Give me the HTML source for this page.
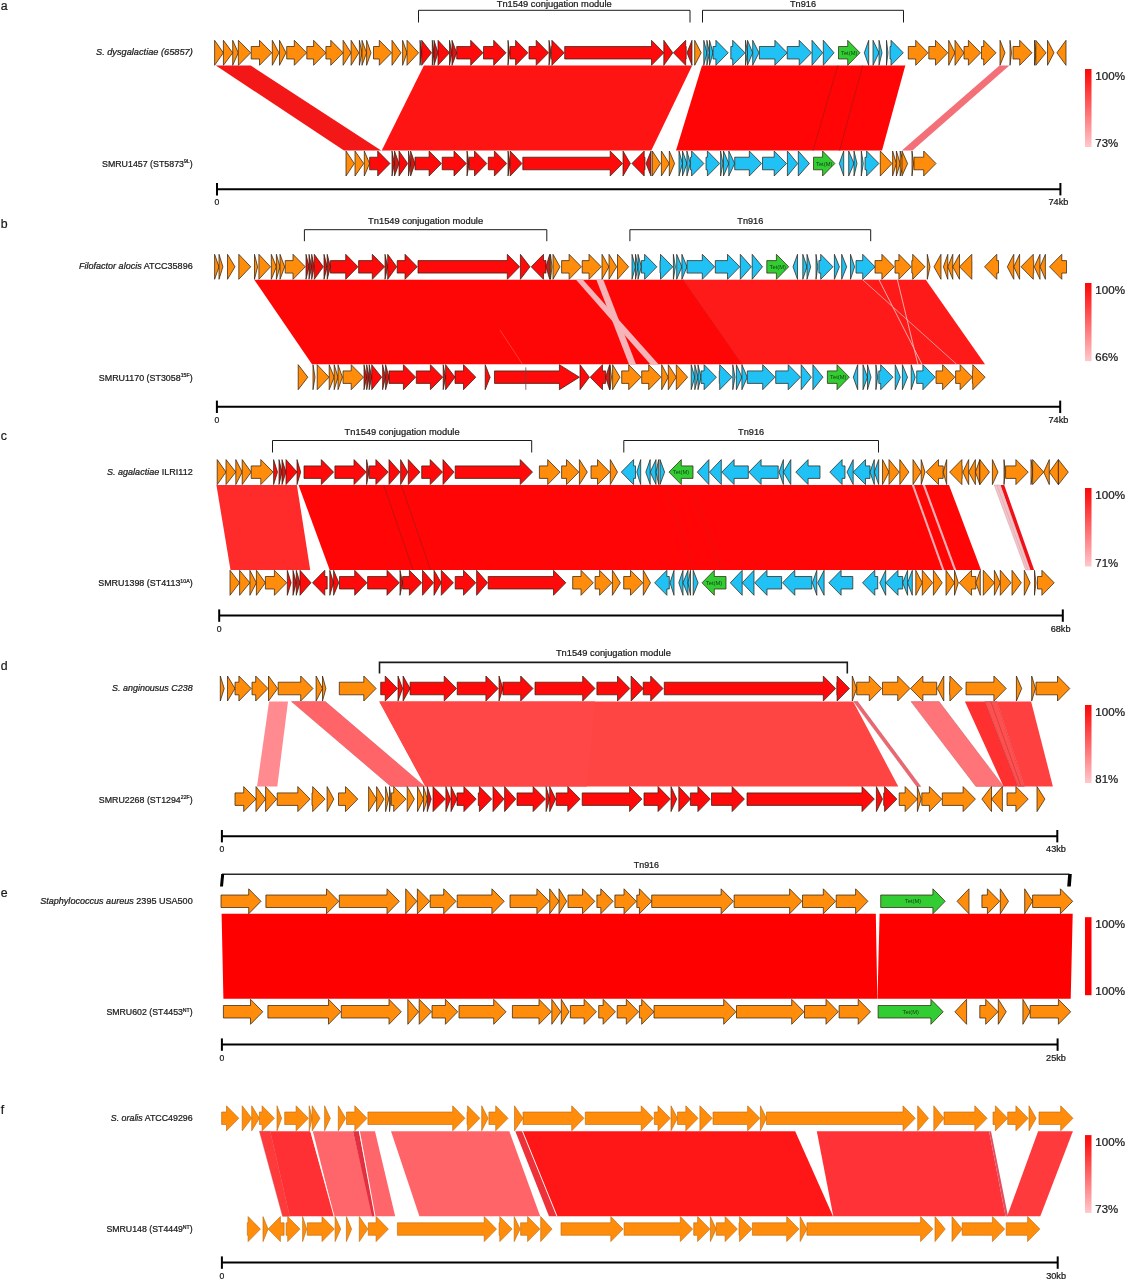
<!DOCTYPE html>
<html><head><meta charset="utf-8"><title>Figure</title>
<style>
html,body{margin:0;padding:0;background:#fff;}
body{width:1126px;height:1280px;overflow:hidden;}
svg{display:block;font-family:"Liberation Sans",sans-serif;}
text{stroke:#1a1a1a;stroke-width:0.22px;}
svg{will-change:transform;}
</style></head><body>
<svg width="1126" height="1280" viewBox="0 0 1126 1280">
<defs>
<linearGradient id="lg" x1="0" y1="0" x2="0" y2="1"><stop offset="0" stop-color="#f80a0a"/><stop offset="0.12" stop-color="#ff1a1a"/><stop offset="1" stop-color="#ffc8cc"/></linearGradient>
<linearGradient id="lgs" x1="0" y1="0" x2="0" y2="1"><stop offset="0" stop-color="#ff0000"/><stop offset="1" stop-color="#ff0000"/></linearGradient>
</defs>
<rect width="1126" height="1280" fill="#fff"/>
<text x="0.8" y="9.6" font-size="12.3" text-anchor="start" fill="#1a1a1a">a</text>
<text x="0.8" y="227.9" font-size="12.3" text-anchor="start" fill="#1a1a1a">b</text>
<text x="0.8" y="440" font-size="12.3" text-anchor="start" fill="#1a1a1a">c</text>
<text x="0.8" y="670.3" font-size="12.3" text-anchor="start" fill="#1a1a1a">d</text>
<text x="0.8" y="897" font-size="12.3" text-anchor="start" fill="#1a1a1a">e</text>
<text x="0.8" y="1114.2" font-size="12.3" text-anchor="start" fill="#1a1a1a">f</text>
<polygon points="215.8,65.5 250.7,65.5 381.2,150.6 344,150.6" fill="#f31717"/>
<polygon points="423.9,65.5 692.2,65.5 651.3,150.6 381.7,150.6" fill="#ff1414"/>
<polygon points="702,65.5 905.3,65.5 882,150.6 676,150.6" fill="#ff0505"/>
<line x1="837.8" y1="65.5" x2="813" y2="150.6" stroke="#b01414" stroke-width="0.7"/>
<line x1="862.7" y1="65.5" x2="839.6" y2="150.6" stroke="#b01414" stroke-width="0.7"/>
<polygon points="999.5,65.5 1009.4,65.5 912.4,150.6 901.8,150.6" fill="#f47078"/>
<g stroke="#2a1a08" stroke-width="0.7" stroke-linejoin="miter">
<polygon points="214.6,40.3 223.4,52.8 214.6,65.3" fill="#ff8c0a"/>
<polygon points="223.4,40.3 232.7,52.8 223.4,65.3" fill="#ff8c0a"/>
<polygon points="232.7,40.3 238.3,52.8 232.7,65.3" fill="#ff8c0a"/>
<polygon points="238.3,46.5 238.4,46.5 238.4,40.3 250.7,52.8 238.4,65.3 238.4,59 238.3,59" fill="#ff8c0a"/>
<polygon points="251.2,46.5 259.5,46.5 259.5,40.3 271.8,52.8 259.5,65.3 259.5,59 251.2,59" fill="#ff8c0a"/>
<polygon points="272.3,40.3 279,52.8 272.3,65.3" fill="#ff8c0a"/>
<polygon points="279.5,40.3 286,52.8 279.5,65.3" fill="#ff8c0a"/>
<polygon points="286.7,46.5 294.3,46.5 294.3,40.3 306.6,52.8 294.3,65.3 294.3,59 286.7,59" fill="#ff8c0a"/>
<polygon points="306.8,46.5 313.6,46.5 313.6,40.3 325.9,52.8 313.6,65.3 313.6,59 306.8,59" fill="#ff8c0a"/>
<polygon points="325.9,46.5 330.8,46.5 330.8,40.3 343.1,52.8 330.8,65.3 330.8,59 325.9,59" fill="#ff8c0a"/>
<polygon points="343.1,40.3 351.1,52.8 343.1,65.3" fill="#ff8c0a"/>
<polygon points="351.1,40.3 358.9,52.8 351.1,65.3" fill="#ff8c0a"/>
<polygon points="359.4,40.3 362,52.8 359.4,65.3" fill="#ff8c0a"/>
<polygon points="362,40.3 366.6,52.8 362,65.3" fill="#ff8c0a"/>
<polygon points="366.6,40.3 371,52.8 366.6,65.3" fill="#ff8c0a"/>
<polygon points="373.5,46.5 379.3,46.5 379.3,40.3 391.6,52.8 379.3,65.3 379.3,59 373.5,59" fill="#ff8c0a"/>
<polygon points="392,40.3 401,52.8 392,65.3" fill="#ff8c0a"/>
<polygon points="402.6,40.3 407,52.8 402.6,65.3" fill="#ff8c0a"/>
<polygon points="407,40.3 418.6,52.8 407,65.3" fill="#ff8c0a"/>
<polygon points="420,40.3 421.7,52.8 420,65.3" fill="#d81414"/>
<polygon points="421.7,40.3 431.5,52.8 421.7,65.3" fill="#ff0a0a"/>
<polygon points="432.3,40.3 434,52.8 432.3,65.3" fill="#d81414"/>
<polygon points="434,40.3 438,52.8 434,65.3" fill="#d81414"/>
<polygon points="438,40.3 449.5,52.8 438,65.3" fill="#ff0a0a"/>
<polygon points="449.5,40.3 452,52.8 449.5,65.3" fill="#d81414"/>
<polygon points="452,40.3 456.7,52.8 452,65.3" fill="#d81414"/>
<polygon points="456.7,46.5 470.7,46.5 470.7,40.3 483,52.8 470.7,65.3 470.7,59 456.7,59" fill="#ff0a0a"/>
<polygon points="483.5,46.5 493.7,46.5 493.7,40.3 506,52.8 493.7,65.3 493.7,59 483.5,59" fill="#ff0a0a"/>
<polygon points="508,40.3 509.5,52.8 508,65.3" fill="#d81414"/>
<polygon points="510,46.5 515.6,46.5 515.6,40.3 527.9,52.8 515.6,65.3 515.6,59 510,59" fill="#ff0a0a"/>
<polygon points="529,46.5 536.2,46.5 536.2,40.3 548.5,52.8 536.2,65.3 536.2,59 529,59" fill="#ff0a0a"/>
<polygon points="549,40.3 551,52.8 549,65.3" fill="#d81414"/>
<polygon points="551.3,46.5 551.9,46.5 551.9,40.3 564.2,52.8 551.9,65.3 551.9,59 551.3,59" fill="#ff0a0a"/>
<polygon points="564.7,46.5 651.5,46.5 651.5,40.3 663.8,52.8 651.5,65.3 651.5,59 564.7,59" fill="#ff0a0a"/>
<polygon points="663.8,40.3 672.8,52.8 663.8,65.3" fill="#ff0a0a"/>
<polygon points="686.2,46.5 685.7,46.5 685.7,40.3 673.4,52.8 685.7,65.3 685.7,59 686.2,59" fill="#ff0a0a"/>
<polygon points="692,40.3 687,52.8 692,65.3" fill="#d81414"/>
<polygon points="694.7,40.3 701.2,52.8 694.7,65.3" fill="#ff8c0a"/>
<polygon points="703.8,40.3 706.9,52.8 703.8,65.3" fill="#20c2f6"/>
<polygon points="706.9,40.3 709.5,52.8 706.9,65.3" fill="#20c2f6"/>
<polygon points="709.5,40.3 713,52.8 709.5,65.3" fill="#20c2f6"/>
<polygon points="713,46.5 715.9,46.5 715.9,40.3 728.2,52.8 715.9,65.3 715.9,59 713,59" fill="#20c2f6"/>
<polygon points="730.8,46.5 732.7,46.5 732.7,40.3 745,52.8 732.7,65.3 732.7,59 730.8,59" fill="#20c2f6"/>
<polygon points="745.5,40.3 747.5,52.8 745.5,65.3" fill="#20c2f6"/>
<polygon points="747.5,40.3 752.7,52.8 747.5,65.3" fill="#20c2f6"/>
<polygon points="752.7,40.3 759,52.8 752.7,65.3" fill="#20c2f6"/>
<polygon points="759.4,46.5 774.9,46.5 774.9,40.3 787.2,52.8 774.9,65.3 774.9,59 759.4,59" fill="#20c2f6"/>
<polygon points="787.2,46.5 799.2,46.5 799.2,40.3 811.5,52.8 799.2,65.3 799.2,59 787.2,59" fill="#20c2f6"/>
<polygon points="812,40.3 822.7,52.8 812,65.3" fill="#20c2f6"/>
<polygon points="823.3,40.3 834,52.8 823.3,65.3" fill="#20c2f6"/>
<polygon points="838.5,46.5 847.7,46.5 847.7,40.3 860,52.8 847.7,65.3 847.7,59 838.5,59" fill="#32cd32"/>
<polygon points="868.7,40.3 864.3,52.8 868.7,65.3" fill="#20c2f6"/>
<polygon points="873,40.3 879,52.8 873,65.3" fill="#20c2f6"/>
<polygon points="879,40.3 882,52.8 879,65.3" fill="#20c2f6"/>
<polygon points="886.5,40.3 888,52.8 886.5,65.3" fill="#20c2f6"/>
<polygon points="890,46.5 891,46.5 891,40.3 903.3,52.8 891,65.3 891,59 890,59" fill="#20c2f6"/>
<polygon points="908.3,46.5 915.7,46.5 915.7,40.3 928,52.8 915.7,65.3 915.7,59 908.3,59" fill="#ff8c0a"/>
<polygon points="928.8,46.5 935.5,46.5 935.5,40.3 947.8,52.8 935.5,65.3 935.5,59 928.8,59" fill="#ff8c0a"/>
<polygon points="948.7,40.3 955,52.8 948.7,65.3" fill="#ff8c0a"/>
<polygon points="955,40.3 964,52.8 955,65.3" fill="#ff8c0a"/>
<polygon points="964,46.5 968.4,46.5 968.4,40.3 980.7,52.8 968.4,65.3 968.4,59 964,59" fill="#ff8c0a"/>
<polygon points="981.5,46.5 983.7,46.5 983.7,40.3 996,52.8 983.7,65.3 983.7,59 981.5,59" fill="#ff8c0a"/>
<polygon points="1000,40.3 1005,52.8 1000,65.3" fill="#ff8c0a"/>
<polygon points="1010,40.3 1011.5,52.8 1010,65.3" fill="#ff8c0a"/>
<polygon points="1013,46.5 1019.7,46.5 1019.7,40.3 1032,52.8 1019.7,65.3 1019.7,59 1013,59" fill="#ff8c0a"/>
<polygon points="1034.5,40.3 1036,52.8 1034.5,65.3" fill="#ff8c0a"/>
<polygon points="1035.8,40.3 1046,52.8 1035.8,65.3" fill="#ff8c0a"/>
<polygon points="1047.5,40.3 1054,52.8 1047.5,65.3" fill="#ff8c0a"/>
<polygon points="1066,40.3 1056.9,52.8 1066,65.3" fill="#ff8c0a"/>
</g>
<text x="849.2" y="54.8" font-size="5.4" text-anchor="middle" fill="#154015" style="stroke:none" textLength="16.4" lengthAdjust="spacingAndGlyphs">Tet(M)</text>
<g stroke="#2a1a08" stroke-width="0.7" stroke-linejoin="miter">
<polygon points="346,151 354.3,163.5 346,176" fill="#ff8c0a"/>
<polygon points="355,151 363.7,163.5 355,176" fill="#ff8c0a"/>
<polygon points="364.3,151 369.6,163.5 364.3,176" fill="#ff8c0a"/>
<polygon points="369.6,157.2 377.7,157.2 377.7,151 390,163.5 377.7,176 377.7,169.8 369.6,169.8" fill="#ff0a0a"/>
<polygon points="392,151 394.5,163.5 392,176" fill="#d81414"/>
<polygon points="394.5,151 399,163.5 394.5,176" fill="#d81414"/>
<polygon points="399,151 407.7,163.5 399,176" fill="#ff0a0a"/>
<polygon points="408.5,151 410.6,163.5 408.5,176" fill="#d81414"/>
<polygon points="410.6,151 415,163.5 410.6,176" fill="#d81414"/>
<polygon points="415,157.2 429.1,157.2 429.1,151 441.4,163.5 429.1,176 429.1,169.8 415,169.8" fill="#ff0a0a"/>
<polygon points="442.2,157.2 454,157.2 454,151 466.3,163.5 454,176 454,169.8 442.2,169.8" fill="#ff0a0a"/>
<polygon points="467,151 469.2,163.5 467,176" fill="#d81414"/>
<polygon points="469.2,157.2 474.5,157.2 474.5,151 486.8,163.5 474.5,176 474.5,169.8 469.2,169.8" fill="#ff0a0a"/>
<polygon points="488.3,157.2 494.4,157.2 494.4,151 506.7,163.5 494.4,176 494.4,169.8 488.3,169.8" fill="#ff0a0a"/>
<polygon points="508,151 510.2,163.5 508,176" fill="#d81414"/>
<polygon points="510.2,151 522,163.5 510.2,176" fill="#ff0a0a"/>
<polygon points="522.8,157.2 610.2,157.2 610.2,151 622.5,163.5 610.2,176 610.2,169.8 522.8,169.8" fill="#ff0a0a"/>
<polygon points="623,151 630.4,163.5 623,176" fill="#ff0a0a"/>
<polygon points="645,157.2 644.2,157.2 644.2,151 631.9,163.5 644.2,176 644.2,169.8 645,169.8" fill="#ff0a0a"/>
<polygon points="651,151 646,163.5 651,176" fill="#d81414"/>
<polygon points="652.3,151 660.5,163.5 652.3,176" fill="#ff8c0a"/>
<polygon points="661.4,151 669.3,163.5 661.4,176" fill="#ff8c0a"/>
<polygon points="669.3,151 674.6,163.5 669.3,176" fill="#ff8c0a"/>
<polygon points="679,151 682.5,163.5 679,176" fill="#20c2f6"/>
<polygon points="682.5,151 686.9,163.5 682.5,176" fill="#20c2f6"/>
<polygon points="686.9,151 690.4,163.5 686.9,176" fill="#20c2f6"/>
<polygon points="690.4,157.2 691.6,157.2 691.6,151 703.9,163.5 691.6,176 691.6,169.8 690.4,169.8" fill="#20c2f6"/>
<polygon points="706,157.2 707.4,157.2 707.4,151 719.7,163.5 707.4,176 707.4,169.8 706,169.8" fill="#20c2f6"/>
<polygon points="720.6,151 723,163.5 720.6,176" fill="#20c2f6"/>
<polygon points="723.5,151 728.8,163.5 723.5,176" fill="#20c2f6"/>
<polygon points="728.8,151 734.7,163.5 728.8,176" fill="#20c2f6"/>
<polygon points="734.7,157.2 749.3,157.2 749.3,151 761.6,163.5 749.3,176 749.3,169.8 734.7,169.8" fill="#20c2f6"/>
<polygon points="762.5,157.2 774.2,157.2 774.2,151 786.5,163.5 774.2,176 774.2,169.8 762.5,169.8" fill="#20c2f6"/>
<polygon points="787.4,151 797.7,163.5 787.4,176" fill="#20c2f6"/>
<polygon points="798.3,151 809.4,163.5 798.3,176" fill="#20c2f6"/>
<polygon points="813.5,157.2 822.6,157.2 822.6,151 834.9,163.5 822.6,176 822.6,169.8 813.5,169.8" fill="#32cd32"/>
<polygon points="843.7,151 839.3,163.5 843.7,176" fill="#20c2f6"/>
<polygon points="848.7,151 854,163.5 848.7,176" fill="#20c2f6"/>
<polygon points="854,151 857,163.5 854,176" fill="#20c2f6"/>
<polygon points="861.3,151 863.3,163.5 861.3,176" fill="#20c2f6"/>
<polygon points="865,157.2 866.6,157.2 866.6,151 878.9,163.5 866.6,176 866.6,169.8 865,169.8" fill="#20c2f6"/>
<polygon points="880.3,151 892,163.5 880.3,176" fill="#ff8c0a"/>
<polygon points="892.6,151 896.4,163.5 892.6,176" fill="#ff8c0a"/>
<polygon points="896.4,151 900.2,163.5 896.4,176" fill="#ff8c0a"/>
<polygon points="900.2,151 903.8,163.5 900.2,176" fill="#ff8c0a"/>
<polygon points="902,151 907.6,163.5 902,176" fill="#ff8c0a"/>
<polygon points="912,151 913.5,163.5 912,176" fill="#ff8c0a"/>
<polygon points="914,157.2 923.7,157.2 923.7,151 936,163.5 923.7,176 923.7,169.8 914,169.8" fill="#ff8c0a"/>
</g>
<text x="824.2" y="165.5" font-size="5.4" text-anchor="middle" fill="#154015" style="stroke:none" textLength="16.4" lengthAdjust="spacingAndGlyphs">Tet(M)</text>
<polyline points="418.5,22.5 418.5,10.3 690,10.3 690,22.5" fill="none" stroke="#1a1a1a" stroke-width="1"/>
<text x="554.2" y="6.8" font-size="8.5" text-anchor="middle" fill="#1a1a1a" textLength="115" lengthAdjust="spacingAndGlyphs">Tn1549 conjugation module</text>
<polyline points="702.5,22.5 702.5,10.3 903.5,10.3 903.5,22.5" fill="none" stroke="#1a1a1a" stroke-width="1"/>
<text x="803" y="6.8" font-size="8.5" text-anchor="middle" fill="#1a1a1a" textLength="26" lengthAdjust="spacingAndGlyphs">Tn916</text>
<text x="96" y="55" font-size="8.5" fill="#1a1a1a" textLength="96.7" lengthAdjust="spacingAndGlyphs"><tspan font-style="italic">S. dysgalactiae (65857)</tspan></text>
<text x="102" y="166.5" font-size="8.5" fill="#1a1a1a" textLength="90.7" lengthAdjust="spacingAndGlyphs">SMRU1457 (ST5873<tspan font-size="5" dy="-3.2">9L</tspan><tspan dy="3.2">)</tspan></text>
<line x1="217" y1="189.2" x2="1060.4" y2="189.2" stroke="#000" stroke-width="2"/>
<line x1="217" y1="183" x2="217" y2="195.4" stroke="#000" stroke-width="2"/>
<line x1="1060.4" y1="183" x2="1060.4" y2="195.4" stroke="#000" stroke-width="2"/>
<text x="217" y="205.2" font-size="8.3" text-anchor="middle" fill="#1a1a1a" textLength="4.8" lengthAdjust="spacingAndGlyphs">0</text>
<text x="1058.4" y="205.2" font-size="8.3" text-anchor="middle" fill="#1a1a1a" textLength="19.9" lengthAdjust="spacingAndGlyphs">74kb</text>
<rect x="1085" y="69" width="6.5" height="78" fill="url(#lg)"/>
<text x="1095.3" y="79.5" font-size="10.5" text-anchor="start" fill="#1a1a1a" textLength="29.7" lengthAdjust="spacingAndGlyphs">100%</text>
<text x="1095.3" y="147.1" font-size="10.5" text-anchor="start" fill="#1a1a1a" textLength="22.8" lengthAdjust="spacingAndGlyphs">73%</text>
<polygon points="254.3,279.8 684,279.8 743,364.3 312,364.3" fill="#ff0606"/>
<polygon points="683,279.8 925.8,279.8 985,364.3 742,364.3" fill="#ff1a1a"/>
<line x1="683" y1="279.8" x2="742" y2="364.3" stroke="#c82020" stroke-width="0.5"/>
<polygon points="576,279.8 583,279.8 658.5,364.3 650.3,364.3" fill="#f6b4b8"/>
<polygon points="596.4,279.8 603.3,279.8 636,364.3 629,364.3" fill="#f6b4b8"/>
<line x1="862.7" y1="279.8" x2="956.7" y2="364.3" stroke="#e8a0a0" stroke-width="0.9"/>
<line x1="879" y1="279.8" x2="922" y2="364.3" stroke="#f0b8b8" stroke-width="0.9"/>
<line x1="897.4" y1="279.8" x2="917.9" y2="364.3" stroke="#f0b8b8" stroke-width="0.9"/>
<line x1="500" y1="330" x2="522.5" y2="364.3" stroke="#ff7060" stroke-width="0.5"/>
<g stroke="#2a1a08" stroke-width="0.7" stroke-linejoin="miter">
<polygon points="214.6,254.3 219,266.8 214.6,279.3" fill="#ff8c0a"/>
<polygon points="219,254.3 222.9,266.8 219,279.3" fill="#ff8c0a"/>
<polygon points="227.5,254.3 235,266.8 227.5,279.3" fill="#ff8c0a"/>
<polygon points="238.8,254.3 250.7,266.8 238.8,279.3" fill="#ff8c0a"/>
<polygon points="254.5,254.3 257.6,266.8 254.5,279.3" fill="#ff8c0a"/>
<polygon points="258.9,254.3 270.5,266.8 258.9,279.3" fill="#ff8c0a"/>
<polygon points="271.3,254.3 276.4,266.8 271.3,279.3" fill="#ff8c0a"/>
<polygon points="276.4,254.3 280,266.8 276.4,279.3" fill="#ff8c0a"/>
<polygon points="280,254.3 284.7,266.8 280,279.3" fill="#ff8c0a"/>
<polygon points="285.2,260.6 293,260.6 293,254.3 305.3,266.8 293,279.3 293,273.1 285.2,273.1" fill="#ff8c0a"/>
<polygon points="306,254.3 309,266.8 306,279.3" fill="#d81414"/>
<polygon points="309,254.3 311.7,266.8 309,279.3" fill="#d81414"/>
<polygon points="311.7,254.3 314.3,266.8 311.7,279.3" fill="#d81414"/>
<polygon points="314.3,254.3 323.3,266.8 314.3,279.3" fill="#ff0a0a"/>
<polygon points="324,254.3 327.2,266.8 324,279.3" fill="#d81414"/>
<polygon points="327.2,254.3 330.5,266.8 327.2,279.3" fill="#d81414"/>
<polygon points="330.5,260.6 345.7,260.6 345.7,254.3 358,266.8 345.7,279.3 345.7,273.1 330.5,273.1" fill="#ff0a0a"/>
<polygon points="358.6,260.6 372.3,260.6 372.3,254.3 384.6,266.8 372.3,279.3 372.3,273.1 358.6,273.1" fill="#ff0a0a"/>
<polygon points="385,254.3 387.7,266.8 385,279.3" fill="#d81414"/>
<polygon points="387.7,254.3 396.7,266.8 387.7,279.3" fill="#ff0a0a"/>
<polygon points="397.2,260.6 405,260.6 405,254.3 417.3,266.8 405,279.3 405,273.1 397.2,273.1" fill="#ff0a0a"/>
<polygon points="418,260.6 507.3,260.6 507.3,254.3 519.6,266.8 507.3,279.3 507.3,273.1 418,273.1" fill="#ff0a0a"/>
<polygon points="520.4,254.3 530,266.8 520.4,279.3" fill="#ff0a0a"/>
<polygon points="546,260.6 543.5,260.6 543.5,254.3 531.2,266.8 543.5,279.3 543.5,273.1 546,273.1" fill="#ff0a0a"/>
<polygon points="549.7,254.3 546,266.8 549.7,279.3" fill="#d81414"/>
<polygon points="550.5,254.3 552,266.8 550.5,279.3" fill="#ff8c0a"/>
<polygon points="553,254.3 560,266.8 553,279.3" fill="#ff8c0a"/>
<polygon points="561.6,260.6 569.1,260.6 569.1,254.3 581.4,266.8 569.1,279.3 569.1,273.1 561.6,273.1" fill="#ff8c0a"/>
<polygon points="582.2,260.6 589,260.6 589,254.3 601.3,266.8 589,279.3 589,273.1 582.2,273.1" fill="#ff8c0a"/>
<polygon points="602,254.3 609,266.8 602,279.3" fill="#ff8c0a"/>
<polygon points="609,254.3 616.7,266.8 609,279.3" fill="#ff8c0a"/>
<polygon points="617.5,254.3 628.6,266.8 617.5,279.3" fill="#ff8c0a"/>
<polygon points="632,254.3 635.5,266.8 632,279.3" fill="#20c2f6"/>
<polygon points="635.5,254.3 638,266.8 635.5,279.3" fill="#20c2f6"/>
<polygon points="638,254.3 641.4,266.8 638,279.3" fill="#20c2f6"/>
<polygon points="641.4,260.6 644.6,260.6 644.6,254.3 656.9,266.8 644.6,279.3 644.6,273.1 641.4,273.1" fill="#20c2f6"/>
<polygon points="660,260.6 660.5,260.6 660.5,254.3 672.8,266.8 660.5,279.3 660.5,273.1 660,273.1" fill="#20c2f6"/>
<polygon points="673.4,254.3 675.4,266.8 673.4,279.3" fill="#20c2f6"/>
<polygon points="676.7,254.3 681.9,266.8 676.7,279.3" fill="#20c2f6"/>
<polygon points="681.9,254.3 687,266.8 681.9,279.3" fill="#20c2f6"/>
<polygon points="687,260.6 702.3,260.6 702.3,254.3 714.6,266.8 702.3,279.3 702.3,273.1 687,273.1" fill="#20c2f6"/>
<polygon points="715.3,260.6 727.5,260.6 727.5,254.3 739.8,266.8 727.5,279.3 727.5,273.1 715.3,273.1" fill="#20c2f6"/>
<polygon points="740.3,254.3 751.4,266.8 740.3,279.3" fill="#20c2f6"/>
<polygon points="752.2,254.3 762.5,266.8 752.2,279.3" fill="#20c2f6"/>
<polygon points="766.8,260.6 776.4,260.6 776.4,254.3 788.7,266.8 776.4,279.3 776.4,273.1 766.8,273.1" fill="#32cd32"/>
<polygon points="797.5,254.3 793,266.8 797.5,279.3" fill="#20c2f6"/>
<polygon points="802.8,254.3 807,266.8 802.8,279.3" fill="#20c2f6"/>
<polygon points="807,254.3 810.7,266.8 807,279.3" fill="#20c2f6"/>
<polygon points="816,254.3 817.8,266.8 816,279.3" fill="#20c2f6"/>
<polygon points="818.9,260.6 820.7,260.6 820.7,254.3 833,266.8 820.7,279.3 820.7,273.1 818.9,273.1" fill="#20c2f6"/>
<polygon points="834.4,254.3 839.4,266.8 834.4,279.3" fill="#20c2f6"/>
<polygon points="841.7,254.3 846.7,266.8 841.7,279.3" fill="#20c2f6"/>
<polygon points="850.5,254.3 854.6,266.8 850.5,279.3" fill="#20c2f6"/>
<polygon points="856,260.6 862.7,260.6 862.7,254.3 875,266.8 862.7,279.3 862.7,273.1 856,273.1" fill="#20c2f6"/>
<polygon points="875,260.6 881.9,260.6 881.9,254.3 894.2,266.8 881.9,279.3 881.9,273.1 875,273.1" fill="#ff8c0a"/>
<polygon points="895,260.6 898.9,260.6 898.9,254.3 911.2,266.8 898.9,279.3 898.9,273.1 895,273.1" fill="#ff8c0a"/>
<polygon points="911.8,260.6 912.7,260.6 912.7,254.3 925,266.8 912.7,279.3 912.7,273.1 911.8,273.1" fill="#ff8c0a"/>
<polygon points="927.3,254.3 930,266.8 927.3,279.3" fill="#ff8c0a"/>
<polygon points="941,254.3 934,266.8 941,279.3" fill="#ff8c0a"/>
<polygon points="947.8,254.3 943.4,266.8 947.8,279.3" fill="#ff8c0a"/>
<polygon points="952.8,254.3 947.8,266.8 952.8,279.3" fill="#ff8c0a"/>
<polygon points="959.5,254.3 952.8,266.8 959.5,279.3" fill="#ff8c0a"/>
<polygon points="971.9,260.6 971.8,260.6 971.8,254.3 959.5,266.8 971.8,279.3 971.8,273.1 971.9,273.1" fill="#ff8c0a"/>
<polygon points="998.5,260.6 996.8,260.6 996.8,254.3 984.5,266.8 996.8,279.3 996.8,273.1 998.5,273.1" fill="#ff8c0a"/>
<polygon points="1013.8,254.3 1007.3,266.8 1013.8,279.3" fill="#ff8c0a"/>
<polygon points="1019.6,254.3 1013.8,266.8 1019.6,279.3" fill="#ff8c0a"/>
<polygon points="1033.7,260.6 1033.3,260.6 1033.3,254.3 1021,266.8 1033.3,279.3 1033.3,273.1 1033.7,273.1" fill="#ff8c0a"/>
<polygon points="1040,254.3 1034.3,266.8 1040,279.3" fill="#ff8c0a"/>
<polygon points="1045.4,254.3 1040,266.8 1045.4,279.3" fill="#ff8c0a"/>
<polygon points="1066.5,260.6 1061.8,260.6 1061.8,254.3 1049.5,266.8 1061.8,279.3 1061.8,273.1 1066.5,273.1" fill="#ff8c0a"/>
</g>
<text x="777.8" y="268.8" font-size="5.4" text-anchor="middle" fill="#154015" style="stroke:none" textLength="16.4" lengthAdjust="spacingAndGlyphs">Tet(M)</text>
<g stroke="#2a1a08" stroke-width="0.7" stroke-linejoin="miter">
<polygon points="298.2,364.7 307.8,377.2 298.2,389.7" fill="#ff8c0a"/>
<polygon points="313,364.7 315,377.2 313,389.7" fill="#ff8c0a"/>
<polygon points="317.2,364.7 329,377.2 317.2,389.7" fill="#ff8c0a"/>
<polygon points="329.2,364.7 334.2,377.2 329.2,389.7" fill="#ff8c0a"/>
<polygon points="334.2,364.7 338,377.2 334.2,389.7" fill="#ff8c0a"/>
<polygon points="338,364.7 342.4,377.2 338,389.7" fill="#ff8c0a"/>
<polygon points="343,370.9 351.2,370.9 351.2,364.7 363.5,377.2 351.2,389.7 351.2,383.4 343,383.4" fill="#ff8c0a"/>
<polygon points="364,364.7 366.7,377.2 364,389.7" fill="#d81414"/>
<polygon points="366.7,364.7 369.2,377.2 366.7,389.7" fill="#d81414"/>
<polygon points="369.2,364.7 371.7,377.2 369.2,389.7" fill="#d81414"/>
<polygon points="371.7,364.7 381.7,377.2 371.7,389.7" fill="#ff0a0a"/>
<polygon points="382.6,364.7 385.6,377.2 382.6,389.7" fill="#d81414"/>
<polygon points="385.6,364.7 389,377.2 385.6,389.7" fill="#d81414"/>
<polygon points="389,370.9 403.4,370.9 403.4,364.7 415.7,377.2 403.4,389.7 403.4,383.4 389,383.4" fill="#ff0a0a"/>
<polygon points="416.3,370.9 430.4,370.9 430.4,364.7 442.7,377.2 430.4,389.7 430.4,383.4 416.3,383.4" fill="#ff0a0a"/>
<polygon points="443.2,364.7 445.6,377.2 443.2,389.7" fill="#d81414"/>
<polygon points="445.6,364.7 455,377.2 445.6,389.7" fill="#ff0a0a"/>
<polygon points="455,370.9 463.5,370.9 463.5,364.7 475.8,377.2 463.5,389.7 463.5,383.4 455,383.4" fill="#ff0a0a"/>
<polygon points="485.2,364.7 490.1,377.2 485.2,389.7" fill="#ff0a0a"/>
<polygon points="494.5,370.9 559.4,370.9 559.4,364.7 579.4,377.2 559.4,389.7 559.4,383.4 494.5,383.4" fill="#ff0a0a"/>
<polygon points="580,364.7 589.4,377.2 580,389.7" fill="#ff0a0a"/>
<polygon points="605.6,370.9 602.5,370.9 602.5,364.7 590.2,377.2 602.5,389.7 602.5,383.4 605.6,383.4" fill="#ff0a0a"/>
<polygon points="609.6,364.7 605.6,377.2 609.6,389.7" fill="#d81414"/>
<polygon points="610,364.7 611.5,377.2 610,389.7" fill="#ff8c0a"/>
<polygon points="612.6,364.7 620,377.2 612.6,389.7" fill="#ff8c0a"/>
<polygon points="621.7,370.9 628.7,370.9 628.7,364.7 641,377.2 628.7,389.7 628.7,383.4 621.7,383.4" fill="#ff8c0a"/>
<polygon points="641.7,370.9 648.7,370.9 648.7,364.7 661,377.2 648.7,389.7 648.7,383.4 641.7,383.4" fill="#ff8c0a"/>
<polygon points="661.7,364.7 668.3,377.2 661.7,389.7" fill="#ff8c0a"/>
<polygon points="668.3,364.7 676.3,377.2 668.3,389.7" fill="#ff8c0a"/>
<polygon points="676.3,364.7 687.6,377.2 676.3,389.7" fill="#ff8c0a"/>
<polygon points="691.2,364.7 694.8,377.2 691.2,389.7" fill="#20c2f6"/>
<polygon points="694.8,364.7 698,377.2 694.8,389.7" fill="#20c2f6"/>
<polygon points="698,364.7 701,377.2 698,389.7" fill="#20c2f6"/>
<polygon points="701,370.9 704.1,370.9 704.1,364.7 716.4,377.2 704.1,389.7 704.1,383.4 701,383.4" fill="#20c2f6"/>
<polygon points="719.3,370.9 719.7,370.9 719.7,364.7 732,377.2 719.7,389.7 719.7,383.4 719.3,383.4" fill="#20c2f6"/>
<polygon points="732.8,364.7 735,377.2 732.8,389.7" fill="#20c2f6"/>
<polygon points="736.4,364.7 741.9,377.2 736.4,389.7" fill="#20c2f6"/>
<polygon points="741.9,364.7 747.3,377.2 741.9,389.7" fill="#20c2f6"/>
<polygon points="747.3,370.9 762.7,370.9 762.7,364.7 775,377.2 762.7,389.7 762.7,383.4 747.3,383.4" fill="#20c2f6"/>
<polygon points="775.7,370.9 788.2,370.9 788.2,364.7 800.5,377.2 788.2,389.7 788.2,383.4 775.7,383.4" fill="#20c2f6"/>
<polygon points="801.2,364.7 811.4,377.2 801.2,389.7" fill="#20c2f6"/>
<polygon points="812.9,364.7 823,377.2 812.9,389.7" fill="#20c2f6"/>
<polygon points="827.4,370.9 837,370.9 837,364.7 849.3,377.2 837,389.7 837,383.4 827.4,383.4" fill="#32cd32"/>
<polygon points="857.7,364.7 853.3,377.2 857.7,389.7" fill="#20c2f6"/>
<polygon points="863,364.7 867.5,377.2 863,389.7" fill="#20c2f6"/>
<polygon points="867.5,364.7 871,377.2 867.5,389.7" fill="#20c2f6"/>
<polygon points="875.9,364.7 877.7,377.2 875.9,389.7" fill="#20c2f6"/>
<polygon points="878.8,370.9 880.7,370.9 880.7,364.7 893,377.2 880.7,389.7 880.7,383.4 878.8,383.4" fill="#20c2f6"/>
<polygon points="895.2,364.7 900.3,377.2 895.2,389.7" fill="#20c2f6"/>
<polygon points="902.4,364.7 907.5,377.2 902.4,389.7" fill="#20c2f6"/>
<polygon points="911.2,364.7 915.2,377.2 911.2,389.7" fill="#20c2f6"/>
<polygon points="916.7,370.9 922.9,370.9 922.9,364.7 935.2,377.2 922.9,389.7 922.9,383.4 916.7,383.4" fill="#20c2f6"/>
<polygon points="936,370.9 942.6,370.9 942.6,364.7 954.9,377.2 942.6,389.7 942.6,383.4 936,383.4" fill="#ff8c0a"/>
<polygon points="955.6,370.9 960.1,370.9 960.1,364.7 972.4,377.2 960.1,389.7 960.1,383.4 955.6,383.4" fill="#ff8c0a"/>
<polygon points="972.4,370.9 972.8,370.9 972.8,364.7 985.1,377.2 972.8,389.7 972.8,383.4 972.4,383.4" fill="#ff8c0a"/>
</g>
<text x="838.3" y="379.2" font-size="5.4" text-anchor="middle" fill="#154015" style="stroke:none" textLength="16.4" lengthAdjust="spacingAndGlyphs">Tet(M)</text>
<line x1="525.8" y1="367.4" x2="525.8" y2="389.8" stroke="#7a4040" stroke-width="0.8"/>
<polyline points="304.4,241.2 304.4,229.7 546.8,229.7 546.8,241.2" fill="none" stroke="#1a1a1a" stroke-width="1"/>
<text x="425.6" y="224.4" font-size="8.5" text-anchor="middle" fill="#1a1a1a" textLength="115" lengthAdjust="spacingAndGlyphs">Tn1549 conjugation module</text>
<polyline points="629.9,241.2 629.9,229.7 870.7,229.7 870.7,241.2" fill="none" stroke="#1a1a1a" stroke-width="1"/>
<text x="750.3" y="224.4" font-size="8.5" text-anchor="middle" fill="#1a1a1a" textLength="26" lengthAdjust="spacingAndGlyphs">Tn916</text>
<text x="79" y="269" font-size="8.5" fill="#1a1a1a" textLength="113.7" lengthAdjust="spacingAndGlyphs"><tspan font-style="italic">Filofactor alocis</tspan> ATCC35896</text>
<text x="98.8" y="380.6" font-size="8.5" fill="#1a1a1a" textLength="93.9" lengthAdjust="spacingAndGlyphs">SMRU1170 (ST3058<tspan font-size="5" dy="-3.2">15F</tspan><tspan dy="3.2">)</tspan></text>
<line x1="216.9" y1="406.8" x2="1060.2" y2="406.8" stroke="#000" stroke-width="2"/>
<line x1="216.9" y1="400.6" x2="216.9" y2="413" stroke="#000" stroke-width="2"/>
<line x1="1060.2" y1="400.6" x2="1060.2" y2="413" stroke="#000" stroke-width="2"/>
<text x="216.9" y="422.8" font-size="8.3" text-anchor="middle" fill="#1a1a1a" textLength="4.8" lengthAdjust="spacingAndGlyphs">0</text>
<text x="1058.4" y="422.8" font-size="8.3" text-anchor="middle" fill="#1a1a1a" textLength="19.9" lengthAdjust="spacingAndGlyphs">74kb</text>
<rect x="1085" y="283" width="6.5" height="78.1" fill="url(#lg)"/>
<text x="1095.3" y="293.5" font-size="10.5" text-anchor="start" fill="#1a1a1a" textLength="29.7" lengthAdjust="spacingAndGlyphs">100%</text>
<text x="1095.3" y="361.2" font-size="10.5" text-anchor="start" fill="#1a1a1a" textLength="22.8" lengthAdjust="spacingAndGlyphs">66%</text>
<polygon points="216.4,485 296.9,485 310.2,569.9 230.5,569.9" fill="#ff2a2a"/>
<polygon points="298.5,485 949,485 981,569.9 329.7,569.9" fill="#ff0505"/>
<line x1="383.7" y1="485" x2="413" y2="569.9" stroke="#a81818" stroke-width="0.7"/>
<line x1="401.2" y1="485" x2="430.6" y2="569.9" stroke="#a81818" stroke-width="0.7"/>
<line x1="665" y1="485" x2="694" y2="569.9" stroke="#c02020" stroke-width="0.4"/>
<line x1="690" y1="485" x2="722" y2="569.9" stroke="#c02020" stroke-width="0.4"/>
<polygon points="911.8,485 914,485 944.4,569.9 942.2,569.9" fill="#f4b0b4"/>
<polygon points="922.7,485 925,485 956.3,569.9 954,569.9" fill="#f4b0b4"/>
<polygon points="994.2,485 999.8,485 1030.5,569.9 1025.6,569.9" fill="#f6c4c8" stroke="#c8a0a0" stroke-width="0.5"/>
<line x1="997" y1="485" x2="1028" y2="569.9" stroke="#c8a0a0" stroke-width="0.5"/>
<polygon points="1000.5,485 1004.2,485 1034.2,569.9 1030.5,569.9" fill="#f01018"/>
<g stroke="#2a1a08" stroke-width="0.7" stroke-linejoin="miter">
<polygon points="217.2,459.6 226,472.1 217.2,484.6" fill="#ff8c0a"/>
<polygon points="226,459.6 235.8,472.1 226,484.6" fill="#ff8c0a"/>
<polygon points="235.8,459.6 242.2,472.1 235.8,484.6" fill="#ff8c0a"/>
<polygon points="242.2,459.6 251.2,472.1 242.2,484.6" fill="#ff8c0a"/>
<polygon points="251.2,465.9 260.8,465.9 260.8,459.6 273.1,472.1 260.8,484.6 260.8,478.4 251.2,478.4" fill="#ff8c0a"/>
<polygon points="273.6,459.6 277.5,472.1 273.6,484.6" fill="#ff0a0a"/>
<polygon points="279,459.6 282,472.1 279,484.6" fill="#d81414"/>
<polygon points="282,459.6 286,472.1 282,484.6" fill="#d81414"/>
<polygon points="286,459.6 297,472.1 286,484.6" fill="#ff0a0a"/>
<polygon points="297,459.6 300.7,472.1 297,484.6" fill="#ff0a0a"/>
<polygon points="304,465.9 321.3,465.9 321.3,459.6 333.6,472.1 321.3,484.6 321.3,478.4 304,478.4" fill="#ff0a0a"/>
<polygon points="334.9,465.9 354,465.9 354,459.6 366.3,472.1 354,484.6 354,478.4 334.9,478.4" fill="#ff0a0a"/>
<polygon points="366.6,459.6 369,472.1 366.6,484.6" fill="#d81414"/>
<polygon points="369.2,465.9 375.9,465.9 375.9,459.6 388.2,472.1 375.9,484.6 375.9,478.4 369.2,478.4" fill="#ff0a0a"/>
<polygon points="389,459.6 400,472.1 389,484.6" fill="#ff0a0a"/>
<polygon points="400.6,459.6 407.8,472.1 400.6,484.6" fill="#ff0a0a"/>
<polygon points="408.3,459.6 419.9,472.1 408.3,484.6" fill="#ff0a0a"/>
<polygon points="421.7,465.9 430.2,465.9 430.2,459.6 442.5,472.1 430.2,484.6 430.2,478.4 421.7,478.4" fill="#ff0a0a"/>
<polygon points="443,459.6 454,472.1 443,484.6" fill="#ff0a0a"/>
<polygon points="455.2,465.9 520.2,465.9 520.2,459.6 532.5,472.1 520.2,484.6 520.2,478.4 455.2,478.4" fill="#ff0a0a"/>
<polygon points="539.4,465.9 547.7,465.9 547.7,459.6 560,472.1 547.7,484.6 547.7,478.4 539.4,478.4" fill="#ff8c0a"/>
<polygon points="561.6,465.9 566.5,465.9 566.5,459.6 578.8,472.1 566.5,484.6 566.5,478.4 561.6,478.4" fill="#ff8c0a"/>
<polygon points="579.4,459.6 587.3,472.1 579.4,484.6" fill="#ff8c0a"/>
<polygon points="591,465.9 597.5,465.9 597.5,459.6 609.8,472.1 597.5,484.6 597.5,478.4 591,478.4" fill="#ff8c0a"/>
<polygon points="610.3,459.6 617.5,472.1 610.3,484.6" fill="#ff8c0a"/>
<polygon points="635.5,465.9 633.6,465.9 633.6,459.6 621.3,472.1 633.6,484.6 633.6,478.4 635.5,478.4" fill="#20c2f6"/>
<polygon points="640.7,459.6 636.8,472.1 640.7,484.6" fill="#20c2f6"/>
<polygon points="650.2,459.6 645.8,472.1 650.2,484.6" fill="#20c2f6"/>
<polygon points="656,459.6 650.2,472.1 656,484.6" fill="#20c2f6"/>
<polygon points="658.7,459.6 656,472.1 658.7,484.6" fill="#20c2f6"/>
<polygon points="660,459.6 664.6,472.1 660,484.6" fill="#20c2f6"/>
<polygon points="693,465.9 681.3,465.9 681.3,459.6 669,472.1 681.3,484.6 681.3,478.4 693,478.4" fill="#32cd32"/>
<polygon points="708.9,459.6 697.3,472.1 708.9,484.6" fill="#20c2f6"/>
<polygon points="721.3,459.6 709.4,472.1 721.3,484.6" fill="#20c2f6"/>
<polygon points="748.3,465.9 734.1,465.9 734.1,459.6 721.8,472.1 734.1,484.6 734.1,478.4 748.3,478.4" fill="#20c2f6"/>
<polygon points="778.2,465.9 761.1,465.9 761.1,459.6 748.8,472.1 761.1,484.6 761.1,478.4 778.2,478.4" fill="#20c2f6"/>
<polygon points="783.4,459.6 779,472.1 783.4,484.6" fill="#20c2f6"/>
<polygon points="790.8,459.6 783.4,472.1 790.8,484.6" fill="#20c2f6"/>
<polygon points="820,465.9 808.1,465.9 808.1,459.6 795.8,472.1 808.1,484.6 808.1,478.4 820,478.4" fill="#20c2f6"/>
<polygon points="845,465.9 842.1,465.9 842.1,459.6 829.8,472.1 842.1,484.6 842.1,478.4 845,478.4" fill="#20c2f6"/>
<polygon points="853.2,459.6 847,472.1 853.2,484.6" fill="#20c2f6"/>
<polygon points="870,465.9 865.5,465.9 865.5,459.6 853.2,472.1 865.5,484.6 865.5,478.4 870,478.4" fill="#20c2f6"/>
<polygon points="874.3,459.6 870,472.1 874.3,484.6" fill="#20c2f6"/>
<polygon points="878.7,459.6 874.3,472.1 878.7,484.6" fill="#20c2f6"/>
<polygon points="882.5,459.6 889,472.1 882.5,484.6" fill="#ff8c0a"/>
<polygon points="889,459.6 899.2,472.1 889,484.6" fill="#ff8c0a"/>
<polygon points="899.8,459.6 908.9,472.1 899.8,484.6" fill="#ff8c0a"/>
<polygon points="913,459.6 921.2,472.1 913,484.6" fill="#ff8c0a"/>
<polygon points="921.2,459.6 925,472.1 921.2,484.6" fill="#ff8c0a"/>
<polygon points="943.2,465.9 938.5,465.9 938.5,459.6 926.2,472.1 938.5,484.6 938.5,478.4 943.2,478.4" fill="#ff8c0a"/>
<polygon points="946.7,459.6 943.2,472.1 946.7,484.6" fill="#ff8c0a"/>
<polygon points="962.2,465.9 961.9,465.9 961.9,459.6 949.6,472.1 961.9,484.6 961.9,478.4 962.2,478.4" fill="#ff8c0a"/>
<polygon points="968.7,459.6 962.8,472.1 968.7,484.6" fill="#ff8c0a"/>
<polygon points="975.4,459.6 968.7,472.1 975.4,484.6" fill="#ff8c0a"/>
<polygon points="979.8,459.6 975.4,472.1 979.8,484.6" fill="#ff8c0a"/>
<polygon points="979.8,459.6 989.5,472.1 979.8,484.6" fill="#ff8c0a"/>
<polygon points="992.4,459.6 998,472.1 992.4,484.6" fill="#ff8c0a"/>
<polygon points="1004,459.6 1005.2,472.1 1004,484.6" fill="#ff8c0a"/>
<polygon points="1005.6,465.9 1015.9,465.9 1015.9,459.6 1028.2,472.1 1015.9,484.6 1015.9,478.4 1005.6,478.4" fill="#ff8c0a"/>
<polygon points="1031,459.6 1033,472.1 1031,484.6" fill="#ff8c0a"/>
<polygon points="1032.6,459.6 1043.7,472.1 1032.6,484.6" fill="#ff8c0a"/>
<polygon points="1049.3,459.6 1043.7,472.1 1049.3,484.6" fill="#ff8c0a"/>
<polygon points="1058.4,459.6 1049.3,472.1 1058.4,484.6" fill="#ff8c0a"/>
<polygon points="1058.4,459.6 1068.3,472.1 1058.4,484.6" fill="#ff8c0a"/>
</g>
<text x="681" y="474.1" font-size="5.4" text-anchor="middle" fill="#154015" style="stroke:none" textLength="16.4" lengthAdjust="spacingAndGlyphs">Tet(M)</text>
<g stroke="#2a1a08" stroke-width="0.7" stroke-linejoin="miter">
<polygon points="230,570.3 239.6,582.8 230,595.3" fill="#ff8c0a"/>
<polygon points="239.6,570.3 249.9,582.8 239.6,595.3" fill="#ff8c0a"/>
<polygon points="249.9,570.3 256.4,582.8 249.9,595.3" fill="#ff8c0a"/>
<polygon points="256.4,570.3 265.4,582.8 256.4,595.3" fill="#ff8c0a"/>
<polygon points="265.4,576.5 274.4,576.5 274.4,570.3 286.7,582.8 274.4,595.3 274.4,589 265.4,589" fill="#ff8c0a"/>
<polygon points="287.3,570.3 291.1,582.8 287.3,595.3" fill="#ff0a0a"/>
<polygon points="293,570.3 296.3,582.8 293,595.3" fill="#d81414"/>
<polygon points="296.3,570.3 300,582.8 296.3,595.3" fill="#d81414"/>
<polygon points="300,570.3 311,582.8 300,595.3" fill="#ff0a0a"/>
<polygon points="327.2,576.5 324.8,576.5 324.8,570.3 312.5,582.8 324.8,595.3 324.8,589 327.2,589" fill="#ff0a0a"/>
<polygon points="329.8,570.3 333.6,582.8 329.8,595.3" fill="#ff0a0a"/>
<polygon points="333.6,570.3 338.8,582.8 333.6,595.3" fill="#ff0a0a"/>
<polygon points="339.5,576.5 354.7,576.5 354.7,570.3 367,582.8 354.7,595.3 354.7,589 339.5,589" fill="#ff0a0a"/>
<polygon points="367.6,576.5 387,576.5 387,570.3 399.3,582.8 387,595.3 387,589 367.6,589" fill="#ff0a0a"/>
<polygon points="400,570.3 402.6,582.8 400,595.3" fill="#d81414"/>
<polygon points="402.6,576.5 409.4,576.5 409.4,570.3 421.7,582.8 409.4,595.3 409.4,589 402.6,589" fill="#ff0a0a"/>
<polygon points="422.5,570.3 433.5,582.8 422.5,595.3" fill="#ff0a0a"/>
<polygon points="434,570.3 441.3,582.8 434,595.3" fill="#ff0a0a"/>
<polygon points="441.3,570.3 453.4,582.8 441.3,595.3" fill="#ff0a0a"/>
<polygon points="455.2,576.5 463.5,576.5 463.5,570.3 475.8,582.8 463.5,595.3 463.5,589 455.2,589" fill="#ff0a0a"/>
<polygon points="476.6,570.3 487.6,582.8 476.6,595.3" fill="#ff0a0a"/>
<polygon points="488.2,576.5 553.5,576.5 553.5,570.3 565.8,582.8 553.5,595.3 553.5,589 488.2,589" fill="#ff0a0a"/>
<polygon points="572.7,576.5 581,576.5 581,570.3 593.3,582.8 581,595.3 581,589 572.7,589" fill="#ff8c0a"/>
<polygon points="595.1,576.5 599.6,576.5 599.6,570.3 611.9,582.8 599.6,595.3 599.6,589 595.1,589" fill="#ff8c0a"/>
<polygon points="612.4,570.3 620.4,582.8 612.4,595.3" fill="#ff8c0a"/>
<polygon points="623.7,576.5 630.5,576.5 630.5,570.3 642.8,582.8 630.5,595.3 630.5,589 623.7,589" fill="#ff8c0a"/>
<polygon points="643.3,570.3 650.5,582.8 643.3,595.3" fill="#ff8c0a"/>
<polygon points="669.3,576.5 666.9,576.5 666.9,570.3 654.6,582.8 666.9,595.3 666.9,589 669.3,589" fill="#20c2f6"/>
<polygon points="674,570.3 670,582.8 674,595.3" fill="#20c2f6"/>
<polygon points="683,570.3 678.8,582.8 683,595.3" fill="#20c2f6"/>
<polygon points="688,570.3 683,582.8 688,595.3" fill="#20c2f6"/>
<polygon points="690.5,570.3 688,582.8 690.5,595.3" fill="#20c2f6"/>
<polygon points="693.2,570.3 698.1,582.8 693.2,595.3" fill="#20c2f6"/>
<polygon points="726,576.5 714.3,576.5 714.3,570.3 702,582.8 714.3,595.3 714.3,589 726,589" fill="#32cd32"/>
<polygon points="742.2,570.3 730.3,582.8 742.2,595.3" fill="#20c2f6"/>
<polygon points="754,570.3 742.3,582.8 754,595.3" fill="#20c2f6"/>
<polygon points="781.6,576.5 767,576.5 767,570.3 754.7,582.8 767,595.3 767,589 781.6,589" fill="#20c2f6"/>
<polygon points="811.8,576.5 794.8,576.5 794.8,570.3 782.5,582.8 794.8,595.3 794.8,589 811.8,589" fill="#20c2f6"/>
<polygon points="816.8,570.3 812.4,582.8 816.8,595.3" fill="#20c2f6"/>
<polygon points="824.1,570.3 817.7,582.8 824.1,595.3" fill="#20c2f6"/>
<polygon points="852.8,576.5 841.1,576.5 841.1,570.3 828.8,582.8 841.1,595.3 841.1,589 852.8,589" fill="#20c2f6"/>
<polygon points="877.7,576.5 874.8,576.5 874.8,570.3 862.5,582.8 874.8,595.3 874.8,589 877.7,589" fill="#20c2f6"/>
<polygon points="885.7,570.3 879.8,582.8 885.7,595.3" fill="#20c2f6"/>
<polygon points="902.7,576.5 898,576.5 898,570.3 885.7,582.8 898,595.3 898,589 902.7,589" fill="#20c2f6"/>
<polygon points="907.6,570.3 902.7,582.8 907.6,595.3" fill="#20c2f6"/>
<polygon points="912.3,570.3 907.6,582.8 912.3,595.3" fill="#20c2f6"/>
<polygon points="915.8,570.3 922.3,582.8 915.8,595.3" fill="#ff8c0a"/>
<polygon points="922.3,570.3 932.6,582.8 922.3,595.3" fill="#ff8c0a"/>
<polygon points="933.4,570.3 942.2,582.8 933.4,595.3" fill="#ff8c0a"/>
<polygon points="946,570.3 954.5,582.8 946,595.3" fill="#ff8c0a"/>
<polygon points="954.5,570.3 958.3,582.8 954.5,595.3" fill="#ff8c0a"/>
<polygon points="975.9,576.5 971.5,576.5 971.5,570.3 959.2,582.8 971.5,595.3 971.5,589 975.9,589" fill="#ff8c0a"/>
<polygon points="980.3,570.3 975.9,582.8 980.3,595.3" fill="#ff8c0a"/>
<polygon points="983.3,570.3 994.4,582.8 983.3,595.3" fill="#ff8c0a"/>
<polygon points="994.4,570.3 1000.3,582.8 994.4,595.3" fill="#ff8c0a"/>
<polygon points="1000.3,570.3 1011.1,582.8 1000.3,595.3" fill="#ff8c0a"/>
<polygon points="1012,570.3 1021.3,582.8 1012,595.3" fill="#ff8c0a"/>
<polygon points="1024.3,570.3 1030.1,582.8 1024.3,595.3" fill="#ff8c0a"/>
<polygon points="1034.5,570.3 1036,582.8 1034.5,595.3" fill="#ff8c0a"/>
<polygon points="1037.5,576.5 1041.9,576.5 1041.9,570.3 1054.2,582.8 1041.9,595.3 1041.9,589 1037.5,589" fill="#ff8c0a"/>
</g>
<text x="714" y="584.8" font-size="5.4" text-anchor="middle" fill="#154015" style="stroke:none" textLength="16.4" lengthAdjust="spacingAndGlyphs">Tet(M)</text>
<polyline points="272.5,452.5 272.5,440.5 531.7,440.5 531.7,452.5" fill="none" stroke="#1a1a1a" stroke-width="1"/>
<text x="402.1" y="435.3" font-size="8.5" text-anchor="middle" fill="#1a1a1a" textLength="115" lengthAdjust="spacingAndGlyphs">Tn1549 conjugation module</text>
<polyline points="623.8,452.5 623.8,440.5 878.5,440.5 878.5,452.5" fill="none" stroke="#1a1a1a" stroke-width="1"/>
<text x="751.1" y="435.3" font-size="8.5" text-anchor="middle" fill="#1a1a1a" textLength="26" lengthAdjust="spacingAndGlyphs">Tn916</text>
<text x="107" y="474.8" font-size="8.5" fill="#1a1a1a" textLength="85.7" lengthAdjust="spacingAndGlyphs"><tspan font-style="italic">S. agalactiae</tspan> ILRI112</text>
<text x="98.2" y="585.8" font-size="8.5" fill="#1a1a1a" textLength="94.5" lengthAdjust="spacingAndGlyphs">SMRU1398 (ST4113<tspan font-size="5" dy="-3.2">10A</tspan><tspan dy="3.2">)</tspan></text>
<line x1="219.2" y1="615.6" x2="1062.8" y2="615.6" stroke="#000" stroke-width="2"/>
<line x1="219.2" y1="609.4" x2="219.2" y2="621.8" stroke="#000" stroke-width="2"/>
<line x1="1062.8" y1="609.4" x2="1062.8" y2="621.8" stroke="#000" stroke-width="2"/>
<text x="219.2" y="631.6" font-size="8.3" text-anchor="middle" fill="#1a1a1a" textLength="4.8" lengthAdjust="spacingAndGlyphs">0</text>
<text x="1060.6" y="631.6" font-size="8.3" text-anchor="middle" fill="#1a1a1a" textLength="19.9" lengthAdjust="spacingAndGlyphs">68kb</text>
<rect x="1085" y="488" width="6.5" height="78.5" fill="url(#lg)"/>
<text x="1095.3" y="498.5" font-size="10.5" text-anchor="start" fill="#1a1a1a" textLength="29.7" lengthAdjust="spacingAndGlyphs">100%</text>
<text x="1095.3" y="566.6" font-size="10.5" text-anchor="start" fill="#1a1a1a" textLength="22.8" lengthAdjust="spacingAndGlyphs">71%</text>
<polygon points="269.1,701.6 288,701.6 277.3,786.4 257,786.4" fill="#ff8a90"/>
<polygon points="291.5,701.6 325.3,701.6 424.7,786.4 391,786.4" fill="#ff6468" stroke="#d05058" stroke-width="0.5"/>
<polygon points="379.3,701.6 853.2,701.6 898.3,786.4 425.4,786.4" fill="#ff4444"/>
<polygon points="379.3,701.6 595,701.6 587,786.4 425.4,786.4" fill="#ff4747"/>
<polygon points="853.7,701.6 857.6,701.6 920.7,786.4 916.8,786.4" fill="#f06670" stroke="#c05058" stroke-width="0.5"/>
<polygon points="911,701.6 939.1,701.6 1003.5,786.4 975.9,786.4" fill="#ff7478" stroke="#c86068" stroke-width="0.5"/>
<polygon points="964.9,701.6 985.1,701.6 1018,786.4 1003.5,786.4" fill="#ff3030"/>
<polygon points="985.1,701.6 997,701.6 1024.5,786.4 1018,786.4" fill="#ff5050" stroke="#b03038" stroke-width="0.5"/>
<polygon points="997,701.6 1031.1,701.6 1052.9,786.4 1024.5,786.4" fill="#ff4040"/>
<line x1="990.9" y1="701.6" x2="1021" y2="786.4" stroke="#b03038" stroke-width="0.5"/>
<g stroke="#2a1a08" stroke-width="0.7" stroke-linejoin="miter">
<polygon points="220.3,676 224.2,688.5 220.3,701" fill="#ff8c0a"/>
<polygon points="227.5,676 235,688.5 227.5,701" fill="#ff8c0a"/>
<polygon points="235,682.2 238.9,682.2 238.9,676 251.2,688.5 238.9,701 238.9,694.8 235,694.8" fill="#ff8c0a"/>
<polygon points="252,682.2 255.7,682.2 255.7,676 268,688.5 255.7,701 255.7,694.8 252,694.8" fill="#ff8c0a"/>
<polygon points="268.5,676 277.7,688.5 268.5,701" fill="#ff8c0a"/>
<polygon points="278.2,682.2 300.7,682.2 300.7,676 313,688.5 300.7,701 300.7,694.8 278.2,694.8" fill="#ff8c0a"/>
<polygon points="316.1,676 322.5,688.5 316.1,701" fill="#ff8c0a"/>
<polygon points="322.5,676 325.9,688.5 322.5,701" fill="#ff8c0a"/>
<polygon points="339.3,682.2 363.8,682.2 363.8,676 376.1,688.5 363.8,701 363.8,694.8 339.3,694.8" fill="#ff8c0a"/>
<polygon points="380.7,682.2 385.2,682.2 385.2,676 397.5,688.5 385.2,701 385.2,694.8 380.7,694.8" fill="#ff0a0a"/>
<polygon points="398,676 402.6,688.5 398,701" fill="#ff0a0a"/>
<polygon points="403.1,676 410.1,688.5 403.1,701" fill="#ff0a0a"/>
<polygon points="410.1,682.2 444.2,682.2 444.2,676 456.5,688.5 444.2,701 444.2,694.8 410.1,694.8" fill="#ff0a0a"/>
<polygon points="457.2,682.2 485.9,682.2 485.9,676 498.2,688.5 485.9,701 485.9,694.8 457.2,694.8" fill="#ff0a0a"/>
<polygon points="499,676 502.9,688.5 499,701" fill="#ff0a0a"/>
<polygon points="502.9,682.2 520.7,682.2 520.7,676 533,688.5 520.7,701 520.7,694.8 502.9,694.8" fill="#ff0a0a"/>
<polygon points="535,682.2 582.7,682.2 582.7,676 595,688.5 582.7,701 582.7,694.8 535,694.8" fill="#ff0a0a"/>
<polygon points="596.9,682.2 617.5,682.2 617.5,676 629.8,688.5 617.5,701 617.5,694.8 596.9,694.8" fill="#ff0a0a"/>
<polygon points="631.1,676 643.2,688.5 631.1,701" fill="#ff0a0a"/>
<polygon points="643.2,682.2 650.7,682.2 650.7,676 663,688.5 650.7,701 650.7,694.8 643.2,694.8" fill="#ff0a0a"/>
<polygon points="664.3,682.2 823.3,682.2 823.3,676 835.6,688.5 823.3,701 823.3,694.8 664.3,694.8" fill="#ff0a0a"/>
<polygon points="836.8,682.2 837.1,682.2 837.1,676 849.4,688.5 837.1,701 837.1,694.8 836.8,694.8" fill="#ff0a0a"/>
<polygon points="852.3,676 856.7,688.5 852.3,701" fill="#ff8c0a"/>
<polygon points="856.7,682.2 869.3,682.2 869.3,676 881.6,688.5 869.3,701 869.3,694.8 856.7,694.8" fill="#ff8c0a"/>
<polygon points="882.5,682.2 897.7,682.2 897.7,676 910,688.5 897.7,701 897.7,694.8 882.5,694.8" fill="#ff8c0a"/>
<polygon points="936.7,682.2 922.9,682.2 922.9,676 910.6,688.5 922.9,701 922.9,694.8 936.7,694.8" fill="#ff8c0a"/>
<polygon points="943.8,676 937.3,688.5 943.8,701" fill="#ff8c0a"/>
<polygon points="949.6,682.2 949.9,682.2 949.9,676 962.2,688.5 949.9,701 949.9,694.8 949.6,694.8" fill="#ff8c0a"/>
<polygon points="966,682.2 993.9,682.2 993.9,676 1006.2,688.5 993.9,701 993.9,694.8 966,694.8" fill="#ff8c0a"/>
<polygon points="1016.4,676 1021.7,688.5 1016.4,701" fill="#ff8c0a"/>
<polygon points="1031.7,676 1035.5,688.5 1031.7,701" fill="#ff8c0a"/>
<polygon points="1036,682.2 1057.5,682.2 1057.5,676 1069.8,688.5 1057.5,701 1057.5,694.8 1036,694.8" fill="#ff8c0a"/>
</g>
<g stroke="#2a1a08" stroke-width="0.7" stroke-linejoin="miter">
<polygon points="235,792.9 243.7,792.9 243.7,786.6 256,799.1 243.7,811.6 243.7,805.4 235,805.4" fill="#ff8c0a"/>
<polygon points="256,786.6 265.6,799.1 256,811.6" fill="#ff8c0a"/>
<polygon points="265.6,786.6 276.7,799.1 265.6,811.6" fill="#ff8c0a"/>
<polygon points="277.2,792.9 297.8,792.9 297.8,786.6 310.1,799.1 297.8,811.6 297.8,805.4 277.2,805.4" fill="#ff8c0a"/>
<polygon points="312,792.9 312.7,792.9 312.7,786.6 325,799.1 312.7,811.6 312.7,805.4 312,805.4" fill="#ff8c0a"/>
<polygon points="327.1,786.6 333.8,799.1 327.1,811.6" fill="#ff8c0a"/>
<polygon points="338.5,792.9 345.5,792.9 345.5,786.6 357.8,799.1 345.5,811.6 345.5,805.4 338.5,805.4" fill="#ff8c0a"/>
<polygon points="368.6,786.6 376.6,799.1 368.6,811.6" fill="#ff8c0a"/>
<polygon points="376.6,786.6 384,799.1 376.6,811.6" fill="#ff8c0a"/>
<polygon points="385.6,786.6 388.7,799.1 385.6,811.6" fill="#ff8c0a"/>
<polygon points="389.5,786.6 391,799.1 389.5,811.6" fill="#ff8c0a"/>
<polygon points="391.3,792.9 393.7,792.9 393.7,786.6 406,799.1 393.7,811.6 393.7,805.4 391.3,805.4" fill="#ff8c0a"/>
<polygon points="407.2,786.6 414.4,799.1 407.2,811.6" fill="#ff8c0a"/>
<polygon points="417.5,786.6 423.5,799.1 417.5,811.6" fill="#ff8c0a"/>
<polygon points="423.5,786.6 427.3,799.1 423.5,811.6" fill="#ff8c0a"/>
<polygon points="427.3,786.6 431.2,799.1 427.3,811.6" fill="#d81414"/>
<polygon points="433,792.9 433,792.9 433,786.6 445.3,799.1 433,811.6 433,805.4 433,805.4" fill="#ff0a0a"/>
<polygon points="445.9,786.6 450.5,799.1 445.9,811.6" fill="#ff0a0a"/>
<polygon points="451,786.6 457,799.1 451,811.6" fill="#ff0a0a"/>
<polygon points="457,792.9 463.9,792.9 463.9,786.6 476.2,799.1 463.9,811.6 463.9,805.4 457,805.4" fill="#ff0a0a"/>
<polygon points="478.3,792.9 479.4,792.9 479.4,786.6 491.7,799.1 479.4,811.6 479.4,805.4 478.3,805.4" fill="#ff0a0a"/>
<polygon points="493,786.6 504,799.1 493,811.6" fill="#ff0a0a"/>
<polygon points="504.6,786.6 515.8,799.1 504.6,811.6" fill="#ff0a0a"/>
<polygon points="517,792.9 533.1,792.9 533.1,786.6 545.4,799.1 533.1,811.6 533.1,805.4 517,805.4" fill="#ff0a0a"/>
<polygon points="546.1,786.6 549.7,799.1 546.1,811.6" fill="#ff0a0a"/>
<polygon points="549.7,786.6 555.7,799.1 549.7,811.6" fill="#ff0a0a"/>
<polygon points="556.2,792.9 567.8,792.9 567.8,786.6 580.1,799.1 567.8,811.6 567.8,805.4 556.2,805.4" fill="#ff0a0a"/>
<polygon points="582.2,792.9 629.6,792.9 629.6,786.6 641.9,799.1 629.6,811.6 629.6,805.4 582.2,805.4" fill="#ff0a0a"/>
<polygon points="644,792.9 658,792.9 658,786.6 670.3,799.1 658,811.6 658,805.4 644,805.4" fill="#ff0a0a"/>
<polygon points="671,786.6 676.7,799.1 671,811.6" fill="#ff0a0a"/>
<polygon points="678.8,786.6 690.4,799.1 678.8,811.6" fill="#ff0a0a"/>
<polygon points="690.4,792.9 697.9,792.9 697.9,786.6 710.2,799.1 697.9,811.6 697.9,805.4 690.4,805.4" fill="#ff0a0a"/>
<polygon points="711.5,792.9 732.1,792.9 732.1,786.6 744.4,799.1 732.1,811.6 732.1,805.4 711.5,805.4" fill="#ff0a0a"/>
<polygon points="747,792.9 862,792.9 862,786.6 874.3,799.1 862,811.6 862,805.4 747,805.4" fill="#ff0a0a"/>
<polygon points="876.4,786.6 882.5,799.1 876.4,811.6" fill="#ff0a0a"/>
<polygon points="883.7,792.9 884.6,792.9 884.6,786.6 896.9,799.1 884.6,811.6 884.6,805.4 883.7,805.4" fill="#ff0a0a"/>
<polygon points="899.2,792.9 905.1,792.9 905.1,786.6 917.4,799.1 905.1,811.6 905.1,805.4 899.2,805.4" fill="#ff8c0a"/>
<polygon points="917.4,786.6 921.2,799.1 917.4,811.6" fill="#ff8c0a"/>
<polygon points="921.8,792.9 929.4,792.9 929.4,786.6 941.7,799.1 929.4,811.6 929.4,805.4 921.8,805.4" fill="#ff8c0a"/>
<polygon points="942.3,792.9 963.1,792.9 963.1,786.6 975.4,799.1 963.1,811.6 963.1,805.4 942.3,805.4" fill="#ff8c0a"/>
<polygon points="991.5,786.6 981.9,799.1 991.5,811.6" fill="#ff8c0a"/>
<polygon points="1002.4,786.6 991.5,799.1 1002.4,811.6" fill="#ff8c0a"/>
<polygon points="1007,792.9 1015.9,792.9 1015.9,786.6 1028.2,799.1 1015.9,811.6 1015.9,805.4 1007,805.4" fill="#ff8c0a"/>
<polygon points="1037,786.6 1044.9,799.1 1037,811.6" fill="#ff8c0a"/>
</g>
<polyline points="379.5,673.5 379.5,662.4 847.3,662.4 847.3,673.5" fill="none" stroke="#1a1a1a" stroke-width="1.6"/>
<text x="613.4" y="655.5" font-size="8.5" text-anchor="middle" fill="#1a1a1a" textLength="115" lengthAdjust="spacingAndGlyphs">Tn1549 conjugation module</text>
<text x="112" y="691" font-size="8.5" fill="#1a1a1a" textLength="80.7" lengthAdjust="spacingAndGlyphs"><tspan font-style="italic">S. anginousus C238</tspan></text>
<text x="98.8" y="802.6" font-size="8.5" fill="#1a1a1a" textLength="93.9" lengthAdjust="spacingAndGlyphs">SMRU2268 (ST1294<tspan font-size="5" dy="-3.2">22F</tspan><tspan dy="3.2">)</tspan></text>
<line x1="221.9" y1="836.2" x2="1057.3" y2="836.2" stroke="#000" stroke-width="2"/>
<line x1="221.9" y1="830" x2="221.9" y2="842.4" stroke="#000" stroke-width="2"/>
<line x1="1057.3" y1="830" x2="1057.3" y2="842.4" stroke="#000" stroke-width="2"/>
<text x="221.9" y="852.2" font-size="8.3" text-anchor="middle" fill="#1a1a1a" textLength="4.8" lengthAdjust="spacingAndGlyphs">0</text>
<text x="1056" y="852.2" font-size="8.3" text-anchor="middle" fill="#1a1a1a" textLength="19.9" lengthAdjust="spacingAndGlyphs">43kb</text>
<rect x="1085" y="705" width="6.5" height="78" fill="url(#lg)"/>
<text x="1095.3" y="715.5" font-size="10.5" text-anchor="start" fill="#1a1a1a" textLength="29.7" lengthAdjust="spacingAndGlyphs">100%</text>
<text x="1095.3" y="783.1" font-size="10.5" text-anchor="start" fill="#1a1a1a" textLength="22.8" lengthAdjust="spacingAndGlyphs">81%</text>
<polygon points="221.6,913.8 875.8,913.8 877.3,998.8 223.4,998.8" fill="#ff0000"/>
<polygon points="879.6,913.8 1072.7,913.8 1070.7,998.8 877.5,998.8" fill="#ff0000"/>
<g stroke="#2a1a08" stroke-width="0.7" stroke-linejoin="miter">
<polygon points="221,895 248.7,895 248.7,888.8 261,901.3 248.7,913.8 248.7,907.5 221,907.5" fill="#ff8c0a"/>
<polygon points="265.9,895 326.5,895 326.5,888.8 338.8,901.3 326.5,913.8 326.5,907.5 265.9,907.5" fill="#ff8c0a"/>
<polygon points="339.3,895 387,895 387,888.8 399.3,901.3 387,913.8 387,907.5 339.3,907.5" fill="#ff8c0a"/>
<polygon points="405.7,888.8 416.8,901.3 405.7,913.8" fill="#ff8c0a"/>
<polygon points="417.3,895 417.4,895 417.4,888.8 429.7,901.3 417.4,913.8 417.4,907.5 417.3,907.5" fill="#ff8c0a"/>
<polygon points="430.2,895 443.7,895 443.7,888.8 456,901.3 443.7,913.8 443.7,907.5 430.2,907.5" fill="#ff8c0a"/>
<polygon points="457.2,895 491.9,895 491.9,888.8 504.2,901.3 491.9,913.8 491.9,907.5 457.2,907.5" fill="#ff8c0a"/>
<polygon points="510,895 536.9,895 536.9,888.8 549.2,901.3 536.9,913.8 536.9,907.5 510,907.5" fill="#ff8c0a"/>
<polygon points="549.7,888.8 559,901.3 549.7,913.8" fill="#ff8c0a"/>
<polygon points="559,888.8 566.7,901.3 559,913.8" fill="#ff8c0a"/>
<polygon points="568,895 582.5,895 582.5,888.8 594.8,901.3 582.5,913.8 582.5,907.5 568,907.5" fill="#ff8c0a"/>
<polygon points="596.9,895 600.8,895 600.8,888.8 613.1,901.3 600.8,913.8 600.8,907.5 596.9,907.5" fill="#ff8c0a"/>
<polygon points="614.9,895 624,895 624,888.8 636.3,901.3 624,913.8 624,907.5 614.9,907.5" fill="#ff8c0a"/>
<polygon points="636.8,895 639.4,895 639.4,888.8 651.7,901.3 639.4,913.8 639.4,907.5 636.8,907.5" fill="#ff8c0a"/>
<polygon points="651.7,895 721.1,895 721.1,888.8 733.4,901.3 721.1,913.8 721.1,907.5 651.7,907.5" fill="#ff8c0a"/>
<polygon points="734.1,895 789.6,895 789.6,888.8 801.9,901.3 789.6,913.8 789.6,907.5 734.1,907.5" fill="#ff8c0a"/>
<polygon points="802.5,895 823.3,895 823.3,888.8 835.6,901.3 823.3,913.8 823.3,907.5 802.5,907.5" fill="#ff8c0a"/>
<polygon points="836.2,895 855.6,895 855.6,888.8 867.9,901.3 855.6,913.8 855.6,907.5 836.2,907.5" fill="#ff8c0a"/>
<polygon points="880.7,895 932.9,895 932.9,888.8 945.2,901.3 932.9,913.8 932.9,907.5 880.7,907.5" fill="#32cd32"/>
<polygon points="969,888.8 957,901.3 969,913.8" fill="#ff8c0a"/>
<polygon points="981.9,895 987.4,895 987.4,888.8 999.7,901.3 987.4,913.8 987.4,907.5 981.9,907.5" fill="#ff8c0a"/>
<polygon points="1000.3,888.8 1008.5,901.3 1000.3,913.8" fill="#ff8c0a"/>
<polygon points="1024.7,888.8 1032.6,901.3 1024.7,913.8" fill="#ff8c0a"/>
<polygon points="1032.6,895 1060.4,895 1060.4,888.8 1072.7,901.3 1060.4,913.8 1060.4,907.5 1032.6,907.5" fill="#ff8c0a"/>
</g>
<text x="913" y="903.3" font-size="5.4" text-anchor="middle" fill="#154015" style="stroke:none" textLength="16.4" lengthAdjust="spacingAndGlyphs">Tet(M)</text>
<g stroke="#2a1a08" stroke-width="0.7" stroke-linejoin="miter">
<polygon points="223.4,1005.5 250.5,1005.5 250.5,999.3 262.8,1011.8 250.5,1024.3 250.5,1018 223.4,1018" fill="#ff8c0a"/>
<polygon points="267.9,1005.5 328.5,1005.5 328.5,999.3 340.8,1011.8 328.5,1024.3 328.5,1018 267.9,1018" fill="#ff8c0a"/>
<polygon points="341.3,1005.5 389,1005.5 389,999.3 401.3,1011.8 389,1024.3 389,1018 341.3,1018" fill="#ff8c0a"/>
<polygon points="407.8,999.3 418.6,1011.8 407.8,1024.3" fill="#ff8c0a"/>
<polygon points="419.1,1005.5 419.2,1005.5 419.2,999.3 431.5,1011.8 419.2,1024.3 419.2,1018 419.1,1018" fill="#ff8c0a"/>
<polygon points="432,1005.5 445.4,1005.5 445.4,999.3 457.7,1011.8 445.4,1024.3 445.4,1018 432,1018" fill="#ff8c0a"/>
<polygon points="459,1005.5 493.7,1005.5 493.7,999.3 506,1011.8 493.7,1024.3 493.7,1018 459,1018" fill="#ff8c0a"/>
<polygon points="512.4,1005.5 539,1005.5 539,999.3 551.3,1011.8 539,1024.3 539,1018 512.4,1018" fill="#ff8c0a"/>
<polygon points="551.8,999.3 560.8,1011.8 551.8,1024.3" fill="#ff8c0a"/>
<polygon points="561.3,999.3 569,1011.8 561.3,1024.3" fill="#ff8c0a"/>
<polygon points="570.4,1005.5 584.1,1005.5 584.1,999.3 596.4,1011.8 584.1,1024.3 584.1,1018 570.4,1018" fill="#ff8c0a"/>
<polygon points="598.7,1005.5 603.1,1005.5 603.1,999.3 615.4,1011.8 603.1,1024.3 603.1,1018 598.7,1018" fill="#ff8c0a"/>
<polygon points="617.2,1005.5 626.3,1005.5 626.3,999.3 638.6,1011.8 626.3,1024.3 626.3,1018 617.2,1018" fill="#ff8c0a"/>
<polygon points="639.4,1005.5 641.7,1005.5 641.7,999.3 654,1011.8 641.7,1024.3 641.7,1018 639.4,1018" fill="#ff8c0a"/>
<polygon points="654,1005.5 723.7,1005.5 723.7,999.3 736,1011.8 723.7,1024.3 723.7,1018 654,1018" fill="#ff8c0a"/>
<polygon points="736.5,1005.5 791.7,1005.5 791.7,999.3 804,1011.8 791.7,1024.3 791.7,1018 736.5,1018" fill="#ff8c0a"/>
<polygon points="804.5,1005.5 826,1005.5 826,999.3 838.3,1011.8 826,1024.3 826,1018 804.5,1018" fill="#ff8c0a"/>
<polygon points="839.1,1005.5 858.2,1005.5 858.2,999.3 870.5,1011.8 858.2,1024.3 858.2,1018 839.1,1018" fill="#ff8c0a"/>
<polygon points="878.1,1005.5 930.9,1005.5 930.9,999.3 943.2,1011.8 930.9,1024.3 930.9,1018 878.1,1018" fill="#32cd32"/>
<polygon points="966.6,999.3 954.9,1011.8 966.6,1024.3" fill="#ff8c0a"/>
<polygon points="979.8,1005.5 985.7,1005.5 985.7,999.3 998,1011.8 985.7,1024.3 985.7,1018 979.8,1018" fill="#ff8c0a"/>
<polygon points="998.3,999.3 1006.2,1011.8 998.3,1024.3" fill="#ff8c0a"/>
<polygon points="1022.9,999.3 1030.2,1011.8 1022.9,1024.3" fill="#ff8c0a"/>
<polygon points="1030.2,1005.5 1058.4,1005.5 1058.4,999.3 1070.7,1011.8 1058.4,1024.3 1058.4,1018 1030.2,1018" fill="#ff8c0a"/>
</g>
<text x="910.7" y="1013.8" font-size="5.4" text-anchor="middle" fill="#154015" style="stroke:none" textLength="16.4" lengthAdjust="spacingAndGlyphs">Tet(M)</text>
<line x1="221.9" y1="874.3" x2="1069.5" y2="874.3" stroke="#2a2a2a" stroke-width="1.4"/>
<polygon points="221.2,874 224.2,874 223,886.6 220,886.6" fill="#000"/>
<polygon points="1068.2,874 1071.8,874 1070.8,886.6 1067.2,886.6" fill="#000"/>
<text x="646.4" y="868.1" font-size="8.5" text-anchor="middle" fill="#1a1a1a" textLength="25.3" lengthAdjust="spacingAndGlyphs">Tn916</text>
<text x="40.2" y="903.6" font-size="8.5" fill="#1a1a1a" textLength="152.5" lengthAdjust="spacingAndGlyphs"><tspan font-style="italic">Staphylococcus aureus</tspan> 2395 USA500</text>
<text x="106.4" y="1014.8" font-size="8.5" fill="#1a1a1a" textLength="86.3" lengthAdjust="spacingAndGlyphs">SMRU602 (ST4453<tspan font-size="5" dy="-3.2">NT</tspan><tspan dy="3.2">)</tspan></text>
<line x1="221.9" y1="1044.6" x2="1057.6" y2="1044.6" stroke="#000" stroke-width="2"/>
<line x1="221.9" y1="1038.4" x2="221.9" y2="1050.8" stroke="#000" stroke-width="2"/>
<line x1="1057.6" y1="1038.4" x2="1057.6" y2="1050.8" stroke="#000" stroke-width="2"/>
<text x="221.9" y="1060.6" font-size="8.3" text-anchor="middle" fill="#1a1a1a" textLength="4.8" lengthAdjust="spacingAndGlyphs">0</text>
<text x="1056" y="1060.6" font-size="8.3" text-anchor="middle" fill="#1a1a1a" textLength="19.9" lengthAdjust="spacingAndGlyphs">25kb</text>
<rect x="1085" y="917.2" width="6.5" height="78" fill="url(#lgs)"/>
<text x="1095.3" y="927.7" font-size="10.5" text-anchor="start" fill="#1a1a1a" textLength="29.7" lengthAdjust="spacingAndGlyphs">100%</text>
<text x="1095.3" y="995.3" font-size="10.5" text-anchor="start" fill="#1a1a1a" textLength="29.7" lengthAdjust="spacingAndGlyphs">100%</text>
<polygon points="259.5,1131.3 270.2,1131.3 289.7,1216.3 282.6,1216.3" fill="#ff3a3a" stroke="#d04048" stroke-width="0.5"/>
<polygon points="270.2,1131.3 310.3,1131.3 334.1,1216.3 289.7,1216.3" fill="#ff3034"/>
<polygon points="312.8,1131.3 353,1131.3 373.2,1216.3 334.1,1216.3" fill="#ff666c"/>
<polygon points="353,1131.3 359,1131.3 375,1216.3 372.1,1216.3" fill="#e23040"/>
<polygon points="359.7,1131.3 375,1131.3 395.2,1216.3 375,1216.3" fill="#ff666c"/>
<polygon points="391,1131.3 509.3,1131.3 540.2,1216.3 419.4,1216.3" fill="#ff6468"/>
<polygon points="515.3,1131.3 522.4,1131.3 556.9,1216.3 549,1216.3" fill="#ee3038"/>
<polygon points="522.4,1131.3 795.2,1131.3 833,1216.3 556.9,1216.3" fill="#ff1616"/>
<polygon points="816.8,1131.3 989.1,1131.3 1005.5,1216.3 833.3,1216.3" fill="#ff3238"/>
<polygon points="989.1,1131.3 991,1131.3 1008,1216.3 1005.5,1216.3" fill="#e05060"/>
<polygon points="1038.1,1131.3 1072.9,1131.3 1040.3,1216.3 1007.1,1216.3" fill="#ff3a3c"/>
<line x1="359.4" y1="1131.3" x2="375" y2="1216.3" stroke="#fff" stroke-width="0.9"/>
<line x1="522.5" y1="1131.3" x2="557" y2="1216.3" stroke="#fff" stroke-width="0.9"/>
<line x1="310.8" y1="1131.3" x2="334.1" y2="1216.3" stroke="#fff" stroke-width="0.8"/>
<g stroke="#b8660a" stroke-width="0.6" stroke-linejoin="miter">
<polygon points="221.6,1112 226.5,1112 226.5,1105.8 238.8,1118.3 226.5,1130.8 226.5,1124.5 221.6,1124.5" fill="#ff8c0a"/>
<polygon points="242.2,1105.8 251.7,1118.3 242.2,1130.8" fill="#ff8c0a"/>
<polygon points="251.7,1105.8 259.4,1118.3 251.7,1130.8" fill="#ff8c0a"/>
<polygon points="259.4,1112 262.1,1112 262.1,1105.8 274.4,1118.3 262.1,1130.8 262.1,1124.5 259.4,1124.5" fill="#ff8c0a"/>
<polygon points="277,1105.8 281.6,1118.3 277,1130.8" fill="#ff8c0a"/>
<polygon points="284.7,1112 296.1,1112 296.1,1105.8 308.4,1118.3 296.1,1130.8 296.1,1124.5 284.7,1124.5" fill="#ff8c0a"/>
<polygon points="309.2,1105.8 312.2,1118.3 309.2,1130.8" fill="#ff8c0a"/>
<polygon points="312.2,1105.8 320,1118.3 312.2,1130.8" fill="#ff8c0a"/>
<polygon points="324.6,1105.8 330.3,1118.3 324.6,1130.8" fill="#ff8c0a"/>
<polygon points="338.3,1105.8 345.7,1118.3 338.3,1130.8" fill="#ff8c0a"/>
<polygon points="346.5,1112 354.8,1112 354.8,1105.8 367.1,1118.3 354.8,1130.8 354.8,1124.5 346.5,1124.5" fill="#ff8c0a"/>
<polygon points="367.9,1112 452.7,1112 452.7,1105.8 465,1118.3 452.7,1130.8 452.7,1124.5 367.9,1124.5" fill="#ff8c0a"/>
<polygon points="467,1112 467.6,1112 467.6,1105.8 479.9,1118.3 467.6,1130.8 467.6,1124.5 467,1124.5" fill="#ff8c0a"/>
<polygon points="481.7,1105.8 488.1,1118.3 481.7,1130.8" fill="#ff8c0a"/>
<polygon points="488.9,1112 495.7,1112 495.7,1105.8 508,1118.3 495.7,1130.8 495.7,1124.5 488.9,1124.5" fill="#ff8c0a"/>
<polygon points="514.5,1105.8 523,1118.3 514.5,1130.8" fill="#ff8c0a"/>
<polygon points="523,1112 571.7,1112 571.7,1105.8 584,1118.3 571.7,1130.8 571.7,1124.5 523,1124.5" fill="#ff8c0a"/>
<polygon points="585.3,1112 641.2,1112 641.2,1105.8 653.5,1118.3 641.2,1130.8 641.2,1124.5 585.3,1124.5" fill="#ff8c0a"/>
<polygon points="654.3,1112 658,1112 658,1105.8 670.3,1118.3 658,1130.8 658,1124.5 654.3,1124.5" fill="#ff8c0a"/>
<polygon points="671,1105.8 677.5,1118.3 671,1130.8" fill="#ff8c0a"/>
<polygon points="677.5,1112 685.8,1112 685.8,1105.8 698.1,1118.3 685.8,1130.8 685.8,1124.5 677.5,1124.5" fill="#ff8c0a"/>
<polygon points="699.9,1112 699.9,1112 699.9,1105.8 712.2,1118.3 699.9,1130.8 699.9,1124.5 699.9,1124.5" fill="#ff8c0a"/>
<polygon points="713,1112 747.6,1112 747.6,1105.8 759.9,1118.3 747.6,1130.8 747.6,1124.5 713,1124.5" fill="#ff8c0a"/>
<polygon points="760.4,1105.8 766.5,1118.3 760.4,1130.8" fill="#ff8c0a"/>
<polygon points="766.5,1112 903,1112 903,1105.8 915.3,1118.3 903,1130.8 903,1124.5 766.5,1124.5" fill="#ff8c0a"/>
<polygon points="917.7,1105.8 928.5,1118.3 917.7,1130.8" fill="#ff8c0a"/>
<polygon points="933.8,1105.8 944,1118.3 933.8,1130.8" fill="#ff8c0a"/>
<polygon points="944,1112 974.8,1112 974.8,1105.8 987.1,1118.3 974.8,1130.8 974.8,1124.5 944,1124.5" fill="#ff8c0a"/>
<polygon points="993,1112 995.4,1112 995.4,1105.8 1007.7,1118.3 995.4,1130.8 995.4,1124.5 993,1124.5" fill="#ff8c0a"/>
<polygon points="1007.7,1112 1015.9,1112 1015.9,1105.8 1028.2,1118.3 1015.9,1130.8 1015.9,1124.5 1007.7,1124.5" fill="#ff8c0a"/>
<polygon points="1029,1105.8 1036.1,1118.3 1029,1130.8" fill="#ff8c0a"/>
<polygon points="1039,1112 1060.7,1112 1060.7,1105.8 1073,1118.3 1060.7,1130.8 1060.7,1124.5 1039,1124.5" fill="#ff8c0a"/>
</g>
<g stroke="#b8660a" stroke-width="0.6" stroke-linejoin="miter">
<polygon points="247.3,1222.8 248.1,1222.8 248.1,1216.6 260.4,1229.1 248.1,1241.6 248.1,1235.3 247.3,1235.3" fill="#ff8c0a"/>
<polygon points="263,1216.6 268.1,1229.1 263,1241.6" fill="#ff8c0a"/>
<polygon points="284.1,1222.8 280.4,1222.8 280.4,1216.6 268.1,1229.1 280.4,1241.6 280.4,1235.3 284.1,1235.3" fill="#ff8c0a"/>
<polygon points="286.1,1222.8 287.7,1222.8 287.7,1216.6 300,1229.1 287.7,1241.6 287.7,1235.3 286.1,1235.3" fill="#ff8c0a"/>
<polygon points="302.6,1216.6 306.7,1229.1 302.6,1241.6" fill="#ff8c0a"/>
<polygon points="307.3,1222.8 322,1222.8 322,1216.6 334.3,1229.1 322,1241.6 322,1235.3 307.3,1235.3" fill="#ff8c0a"/>
<polygon points="335.1,1216.6 340.7,1229.1 335.1,1241.6" fill="#ff8c0a"/>
<polygon points="346.4,1216.6 351.6,1229.1 346.4,1241.6" fill="#ff8c0a"/>
<polygon points="359.3,1216.6 367.8,1229.1 359.3,1241.6" fill="#ff8c0a"/>
<polygon points="368.3,1222.8 376.1,1222.8 376.1,1216.6 388.4,1229.1 376.1,1241.6 376.1,1235.3 368.3,1235.3" fill="#ff8c0a"/>
<polygon points="397.4,1222.8 484.2,1222.8 484.2,1216.6 496.5,1229.1 484.2,1241.6 484.2,1235.3 397.4,1235.3" fill="#ff8c0a"/>
<polygon points="499.1,1222.8 499.8,1222.8 499.8,1216.6 512.1,1229.1 499.8,1241.6 499.8,1235.3 499.1,1235.3" fill="#ff8c0a"/>
<polygon points="514.2,1216.6 520.1,1229.1 514.2,1241.6" fill="#ff8c0a"/>
<polygon points="520.6,1222.8 527.6,1222.8 527.6,1216.6 539.9,1229.1 527.6,1241.6 527.6,1235.3 520.6,1235.3" fill="#ff8c0a"/>
<polygon points="540.7,1216.6 552,1229.1 540.7,1241.6" fill="#ff8c0a"/>
<polygon points="561,1222.8 610.8,1222.8 610.8,1216.6 623.1,1229.1 610.8,1241.6 610.8,1235.3 561,1235.3" fill="#ff8c0a"/>
<polygon points="624.1,1222.8 680.3,1222.8 680.3,1216.6 692.6,1229.1 680.3,1241.6 680.3,1235.3 624.1,1235.3" fill="#ff8c0a"/>
<polygon points="693.7,1222.8 697.6,1222.8 697.6,1216.6 709.9,1229.1 697.6,1241.6 697.6,1235.3 693.7,1235.3" fill="#ff8c0a"/>
<polygon points="710.4,1216.6 716.3,1229.1 710.4,1241.6" fill="#ff8c0a"/>
<polygon points="716.3,1222.8 725.1,1222.8 725.1,1216.6 737.4,1229.1 725.1,1241.6 725.1,1235.3 716.3,1235.3" fill="#ff8c0a"/>
<polygon points="739,1222.8 739.6,1222.8 739.6,1216.6 751.9,1229.1 739.6,1241.6 739.6,1235.3 739,1235.3" fill="#ff8c0a"/>
<polygon points="752.4,1222.8 786.7,1222.8 786.7,1216.6 799,1229.1 786.7,1241.6 786.7,1235.3 752.4,1235.3" fill="#ff8c0a"/>
<polygon points="800.2,1216.6 806.9,1229.1 800.2,1241.6" fill="#ff8c0a"/>
<polygon points="806.9,1222.8 920.6,1222.8 920.6,1216.6 932.9,1229.1 920.6,1241.6 920.6,1235.3 806.9,1235.3" fill="#ff8c0a"/>
<polygon points="935,1216.6 945.2,1229.1 935,1241.6" fill="#ff8c0a"/>
<polygon points="952,1216.6 962.2,1229.1 952,1241.6" fill="#ff8c0a"/>
<polygon points="962.2,1222.8 992.4,1222.8 992.4,1216.6 1004.7,1229.1 992.4,1241.6 992.4,1235.3 962.2,1235.3" fill="#ff8c0a"/>
<polygon points="1006.2,1222.8 1027.6,1222.8 1027.6,1216.6 1039.9,1229.1 1027.6,1241.6 1027.6,1235.3 1006.2,1235.3" fill="#ff8c0a"/>
</g>
<text x="110.8" y="1121" font-size="8.5" fill="#1a1a1a" textLength="81.9" lengthAdjust="spacingAndGlyphs"><tspan font-style="italic">S. oralis</tspan> ATCC49296</text>
<text x="106.4" y="1232.2" font-size="8.5" fill="#1a1a1a" textLength="86.3" lengthAdjust="spacingAndGlyphs">SMRU148 (ST4449<tspan font-size="5" dy="-3.2">NT</tspan><tspan dy="3.2">)</tspan></text>
<line x1="221.9" y1="1262.6" x2="1057.7" y2="1262.6" stroke="#000" stroke-width="2"/>
<line x1="221.9" y1="1256.4" x2="221.9" y2="1268.8" stroke="#000" stroke-width="2"/>
<line x1="1057.7" y1="1256.4" x2="1057.7" y2="1268.8" stroke="#000" stroke-width="2"/>
<text x="221.9" y="1278.6" font-size="8.3" text-anchor="middle" fill="#1a1a1a" textLength="4.8" lengthAdjust="spacingAndGlyphs">0</text>
<text x="1056.1" y="1278.6" font-size="8.3" text-anchor="middle" fill="#1a1a1a" textLength="19.9" lengthAdjust="spacingAndGlyphs">30kb</text>
<rect x="1085" y="1135.1" width="6.5" height="77.8" fill="url(#lg)"/>
<text x="1095.3" y="1145.6" font-size="10.5" text-anchor="start" fill="#1a1a1a" textLength="29.7" lengthAdjust="spacingAndGlyphs">100%</text>
<text x="1095.3" y="1213" font-size="10.5" text-anchor="start" fill="#1a1a1a" textLength="22.8" lengthAdjust="spacingAndGlyphs">73%</text>
</svg>
</body></html>
